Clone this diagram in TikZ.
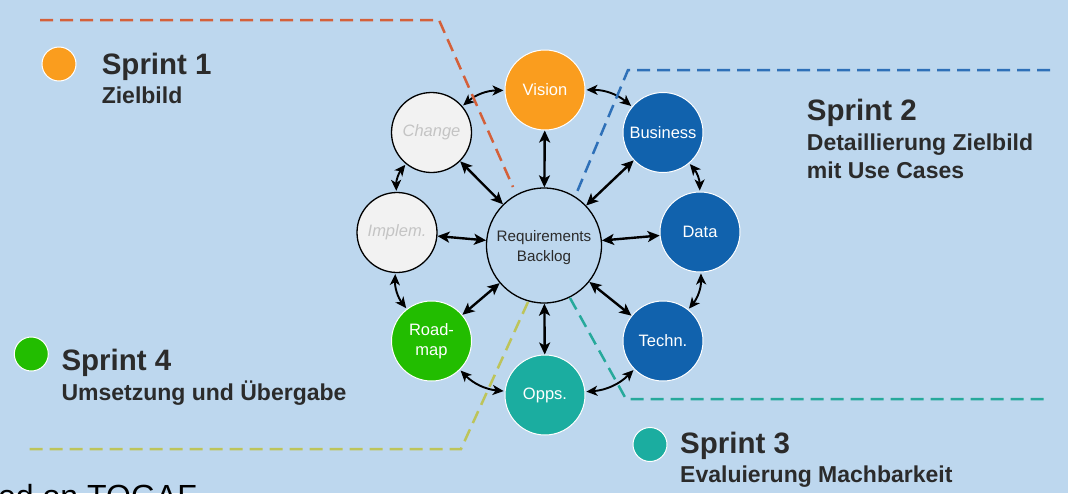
\documentclass[tikz,border=0pt]{standalone}
\usepackage{fontspec}
\setmainfont{Liberation Sans}
\usetikzlibrary{arrows.meta}
\definecolor{bg}{HTML}{BDD7EE}
\definecolor{vorange}{HTML}{FA9D1E}
\definecolor{vblue}{HTML}{1162AD}
\definecolor{vgreen}{HTML}{22BD00}
\definecolor{vteal}{HTML}{1BADA0}
\definecolor{lgray}{HTML}{F2F2F2}
\definecolor{txtgray}{HTML}{C4C4C4}
\definecolor{dark}{HTML}{2B2B2B}
\definecolor{dorange}{HTML}{D4603A}
\definecolor{dblue}{HTML}{2E70B8}
\definecolor{dteal}{HTML}{26A99B}
\definecolor{dyellow}{HTML}{BDC45A}
\begin{document}
\begin{tikzpicture}[x=1pt,y=1pt,
  phase/.style={circle, minimum size=80pt, inner sep=0pt, draw=white, line width=1pt,
    text=white, font=\fontsize{16.5}{20}\selectfont, align=center},
  greyphase/.style={phase, fill=lgray, draw=black, line width=1.3pt, text=txtgray,
    font=\itshape\fontsize{16.5}{20}\selectfont},
  hubstyle/.style={circle, minimum size=115pt, inner sep=0pt, draw=black, line width=1.3pt, fill=bg},
  hubtext/.style={align=center, inner sep=0pt, font=\fontsize{15.2}{20}\selectfont, text=dark},
  link/.style={{Stealth[length=12pt,width=11pt,inset=3pt]}-{Stealth[length=12pt,width=11pt,inset=3pt]},
    line width=2.4pt, black},
  clink/.style={{Stealth[length=11pt,width=10pt,inset=3pt]}-{Stealth[length=11pt,width=10pt,inset=3pt]},
    line width=1.9pt, black, shorten <=1pt, shorten >=1pt},
  sdot/.style={circle, minimum size=34pt, inner sep=0pt, draw=white, line width=1pt},
  stitle/.style={anchor=base west, inner sep=0pt, text=dark, font=\bfseries\fontsize{29.5}{34}\selectfont},
  ssub/.style={anchor=base west, inner sep=0pt, text=dark, font=\bfseries\fontsize{23}{28}\selectfont},
  sprintline/.style={line width=2.5pt, dash pattern=on 13pt off 7pt}
]
\fill[bg] (0,0) rectangle (1068,-493);
\useasboundingbox (0,0) rectangle (1068,-493);

% circles
\node[hubstyle] (hub) at (544,-245.5) {};
\node[hubtext] (hubtxt) at (544,-248) {Requirements\\Backlog};
\node[phase, fill=vorange] (vision) at (545,-90) {Vision};
\node[phase, fill=vblue] (business) at (663,-132.5) {Business};
\node[phase, fill=vblue] (data) at (700,-232) {Data};
\node[phase, fill=vblue] (techn) at (663,-341) {Techn.};
\node[phase, fill=vteal] (opps) at (545,-395) {Opps.};
\node[phase, fill=vgreen] (roadmap) at (431.5,-341) {Road-\\map};
\node[greyphase] (implem) at (397,-232.5) {Implem.};
\node[greyphase] (change) at (431.5,-132.5) {Change};

% radial arrows
\foreach \n in {vision,business,data,techn,opps,roadmap,implem,change}
  \draw[link] (hub) -- (\n);

% ring arrows
\draw[clink] (vision) to[bend left=20] (business);
\draw[clink] (business) to[bend left=20] (data);
\draw[clink] (data) to[bend left=20] (techn);
\draw[clink] (techn) to[bend left=20] (opps);
\draw[clink] (opps) to[bend left=20] (roadmap);
\draw[clink] (roadmap) to[bend left=20] (implem);
\draw[clink] (implem) to[bend left=20] (change);
\draw[clink] (change) to[bend left=20] (vision);

% sprint separators
\coordinate (o1) at (40,-20); \coordinate (o2) at (439,-20); \coordinate (o3) at (513,-187);
\coordinate (b1) at (1050,-70); \coordinate (b2) at (628,-70); \coordinate (b3) at (577,-192);
\coordinate (t1) at (570,-298); \coordinate (t2) at (626,-399); \coordinate (t3) at (1050,-399);
\coordinate (y1) at (528,-302); \coordinate (y2) at (461,-449); \coordinate (y3) at (26,-449);
\draw[sprintline, dorange] (o1) -- (o2) -- (o3);
\draw[sprintline, dblue] (b1) -- (b2) -- (b3);
\draw[sprintline, dteal] (t1) -- (t2) -- (t3);
\draw[sprintline, dyellow] (y1) -- (y2) -- (y3);

% legend
\node[sdot, fill=vorange] (d1) at (59,-64) {};
\node[stitle] (s1) at (101.6,-74) {Sprint 1};
\node[ssub] (s1a) at (101.6,-103) {Zielbild};

\node[stitle] (s2) at (806.7,-120.7) {Sprint 2};
\node[ssub] (s2a) at (806.7,-150) {Detaillierung Zielbild};
\node[ssub] (s2b) at (806.7,-178) {mit Use Cases};

\node[sdot, fill=vteal] (d3) at (650,-444.5) {};
\node[stitle] (s3) at (680,-453) {Sprint 3};
\node[ssub] (s3a) at (680,-482) {Evaluierung Machbarkeit};

\node[sdot, fill=vgreen] (d4) at (31.3,-354) {};
\node[stitle] (s4) at (61.3,-370) {Sprint 4};
\node[ssub] (s4a) at (61.3,-400) {Umsetzung und Übergabe};

\node[anchor=base west, inner sep=0pt, font=\fontsize{32}{38}\selectfont, text=black] (togaf) at (-2,-507.5) {ed on TOGAF};
\end{tikzpicture}
\end{document}
